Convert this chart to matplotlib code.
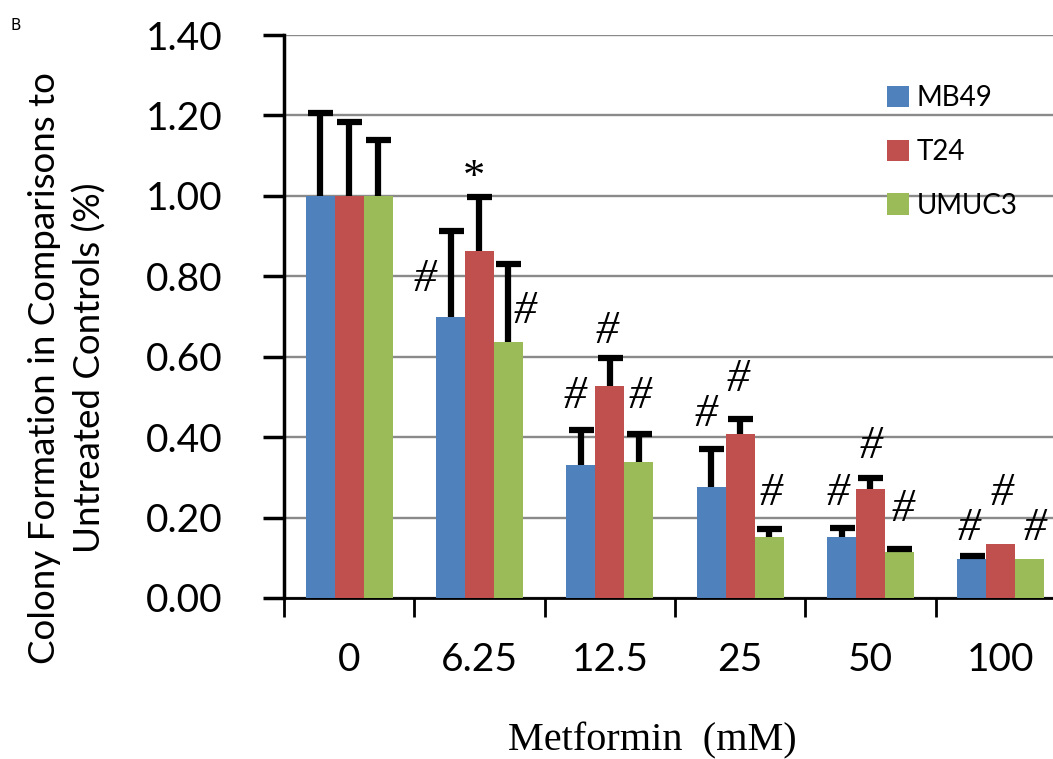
import matplotlib
matplotlib.use("Agg")
import matplotlib.pyplot as plt
import numpy as np
from matplotlib.ticker import FixedLocator, NullFormatter

# ---- data ----
categories = ["0", "6.25", "12.5", "25", "50", "100"]
series_names = ["MB49", "T24", "UMUC3"]
mb49 = [1.00, 0.70, 0.331, 0.277, 0.152, 0.097]
t24 = [1.00, 0.863, 0.526, 0.407, 0.271, 0.135]
umuc3 = [1.00, 0.636, 0.337, 0.151, 0.114, 0.098]
mb49_err = [0.205, 0.213, 0.087, 0.093, 0.023, 0.008]
t24_err = [0.183, 0.135, 0.070, 0.039, 0.028, 0.0]
umuc3_err = [0.139, 0.195, 0.071, 0.021, 0.008, 0.0]
# significance marks per series (per category)
mb49_marks = ["", "#", "#", "#", "#", "#"]
t24_marks = ["", "*", "#", "#", "#", "#"]
umuc3_marks = ["", "#", "#", "#", "#", "#"]
mb49_mark_y = [0, 0.791, 0.501, 0.455, 0.260, 0.173]
t24_mark_y = [0, 1.045, 0.662, 0.542, 0.376, 0.260]
umuc3_mark_y = [0, 0.712, 0.501, 0.260, 0.219, 0.173]
yticks = [0.0, 0.2, 0.4, 0.6, 0.8, 1.0, 1.2, 1.4]

colors = ["#4F81BD", "#C0504D", "#9BBB59"]

fig = plt.figure(figsize=(10.53, 7.59), dpi=100)
ax = fig.add_axes([284 / 1053, 1 - 598 / 759, (1066 - 284) / 1053, (598 - 35) / 759])

x = np.arange(len(categories))
w = 0.222
vals = [mb49, t24, umuc3]
errs = [mb49_err, t24_err, umuc3_err]
marks = [mb49_marks, t24_marks, umuc3_marks]
mark_ys = [mb49_mark_y, t24_mark_y, umuc3_mark_y]
offsets = [-w, 0, w]

for k in range(3):
    ax.bar(x + offsets[k], vals[k], width=w, color=colors[k], label=series_names[k], zorder=3)
    v = np.array(vals[k])
    e = np.array(errs[k])
    keep = e > 0
    _, caps, _ = ax.errorbar((x + offsets[k])[keep], v[keep], yerr=[np.zeros(keep.sum()), e[keep]],
                             fmt="none", ecolor="black", elinewidth=4.5, capsize=9, capthick=4.5,
                             zorder=4)
    caps[0].set_visible(False)

# mark x-offsets (layout)
mark_dx = [[-0.25, -0.418, -0.267, -0.264, -0.246, -0.241],
           [0.0, -0.042, -0.023, -0.013, 0.003, 0.008],
           [0.24, 0.350, 0.232, 0.235, 0.253, 0.264]]
for k in range(3):
    for i in range(len(x)):
        m = marks[k][i]
        if m:
            ax.text(x[i] + mark_dx[k][i], mark_ys[k][i], m, ha="center", va="center",
                    fontsize=33 if m == "#" else 32, family="Liberation Serif",
                    style="italic" if m == "#" else "normal", zorder=5)

ax.set_xlim(-0.5, 5.5)
ax.set_ylim(0, 1.4)
ax.yaxis.grid(True, color="#8a8a8a", linewidth=1.7, zorder=0)
ax.set_axisbelow(True)
for s in ["top", "right"]:
    ax.spines[s].set_visible(False)
ax.spines["left"].set_linewidth(2.5)
ax.spines["bottom"].set_linewidth(2.0)

ax.set_yticks(yticks)
ax.set_yticklabels([f"{v:.2f}" for v in yticks], family="Lato", fontsize=28)
ax.tick_params(axis="y", direction="out", length=15, width=2.5, pad=29)

ax.set_xticks(x)
ax.set_xticklabels(categories, family="Lato", fontsize=28)
ax.tick_params(axis="x", which="major", length=0, pad=32)
ax.xaxis.set_minor_locator(FixedLocator(np.arange(-0.5, 6, 1.0)))
ax.xaxis.set_minor_formatter(NullFormatter())
ax.tick_params(axis="x", which="minor", direction="out", length=14, width=2)

fig.text(652 / 1053, 1 - 741 / 759, "Metformin  (mM)", ha="center", va="center",
         family="Liberation Serif", fontsize=29)
fig.text(67 / 1053, 1 - 368 / 759, "Colony Formation in Comparisons to\nUntreated Controls (%)",
         rotation=90, ha="center", va="center", family="Lato", fontsize=26.5, linespacing=1.4,
         multialignment="center")
fig.text(10 / 1053, 1 - 25 / 759, "B", family="DejaVu Sans", fontsize=11, va="center")

ax.legend(loc="upper left", bbox_to_anchor=(876 / 1053, 1 - 74 / 759), bbox_transform=fig.transFigure,
          frameon=False, prop={"family": "Lato", "size": 20}, handlelength=0.8, handleheight=0.8,
          handletextpad=0.25, labelspacing=1.0, borderaxespad=0)

fig.savefig("out.png", dpi=100)
